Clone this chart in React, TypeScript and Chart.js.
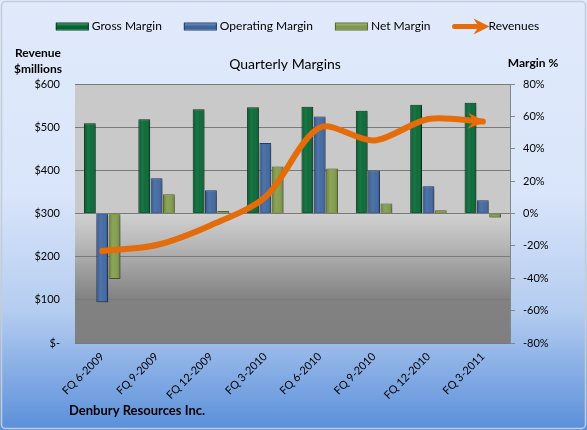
import { useEffect, useRef } from "react";
import { Chart, registerables } from "chart.js";

Chart.register(...registerables);

// Quarter labels along the bottom axis
const quarters = [
  "FQ 6-2009",
  "FQ 9-2009",
  "FQ 12-2009",
  "FQ 3-2010",
  "FQ 6-2010",
  "FQ 9-2010",
  "FQ 12-2010",
  "FQ 3-2011",
];

// Margins in percent (right axis)
const grossMargin = [55.7, 58.2, 64.4, 65.6, 66.0, 63.5, 67.2, 68.4];
const operatingMargin = [-54.9, 21.7, 14.3, 43.5, 60.0, 26.6, 16.8, 8.2];
const netMargin = [-40.5, 11.9, 1.5, 29.1, 27.8, 6.2, 2.0, -2.4];

// Revenues in $ millions (left axis)
const revenues = [213, 227, 273, 338, 499, 469, 519, 513];

// Axis ticks and their labels
const revenueTicks = [0, 100, 200, 300, 400, 500, 600];
const revenueTickLabels = ["$-", "$100", "$200", "$300", "$400", "$500", "$600"];
const marginTicks = [-80, -60, -40, -20, 0, 20, 40, 60, 80];
const marginTickLabels = ["-80%", "-60%", "-40%", "-20%", "0%", "20%", "40%", "60%", "80%"];

const FONT = "Lato, 'Open Sans', sans-serif";

const GREEN = "#00652f";
const GREEN_EDGE = "#0b3d20";
const BLUE = "#3b64a0";
const BLUE_EDGE = "#263f66";
const OLIVE = "#7f9a45";
const OLIVE_EDGE = "#56692c";
const ORANGE = "#e46c0a";

// Chart background, outer frame and plot-area fill
const framePlugin = {
  id: "frame",
  beforeDraw(chart: any) {
    const { ctx, width, height, chartArea: a } = chart;
    ctx.save();
    const bg = ctx.createLinearGradient(0, 0, 0, height);
    bg.addColorStop(0, "#e0eafb");
    bg.addColorStop(0.45, "#d9e5fa");
    bg.addColorStop(0.72, "#b5cdf0");
    bg.addColorStop(1, "#5a8fda");
    ctx.fillStyle = bg;
    ctx.fillRect(0, 0, width, height);

    ctx.strokeStyle = "#c4ccd8";
    ctx.lineWidth = 1.5;
    ctx.beginPath();
    ctx.roundRect(1.5, 1.5, width - 3, height - 3, 4);
    ctx.stroke();

    const zeroY = chart.scales.y1.getPixelForValue(0);
    const h = a.bottom - a.top;
    const zf = (zeroY - a.top) / h;
    const pg = ctx.createLinearGradient(0, a.top, 0, a.bottom);
    pg.addColorStop(0, "#c9c9c9");
    pg.addColorStop(zf, "#c9c9c9");
    pg.addColorStop(Math.min(1, zf + 0.001), "#d0d0d0");
    pg.addColorStop(Math.min(1, zf + 0.1), "#bcbcbc");
    pg.addColorStop(Math.min(1, zf + 0.33), "#828282");
    pg.addColorStop(1, "#7f7f7f");
    ctx.fillStyle = pg;
    ctx.fillRect(a.left, a.top, a.right - a.left, h);
    ctx.restore();
  },
};

// Drop shadow and rounded shading on the bars
const barShadePlugin = {
  id: "barShade",
  beforeDatasetDraw(chart: any, args: any) {
    if (args.meta.type !== "bar") return;
    const ctx = chart.ctx;
    ctx.save();
    ctx.shadowColor = "rgba(0,0,0,0.35)";
    ctx.shadowBlur = 3;
    ctx.shadowOffsetX = 1.5;
    ctx.shadowOffsetY = 1.5;
  },
  afterDatasetDraw(chart: any, args: any) {
    if (args.meta.type !== "bar") return;
    const ctx = chart.ctx;
    ctx.restore();
    ctx.save();
    for (const el of args.meta.data) {
      const { x, y, base, width } = el.getProps(["x", "y", "base", "width"], true);
      const l = x - width / 2;
      const top = Math.min(y, base);
      const h = Math.abs(base - y);
      if (h < 3) continue;
      const g = ctx.createLinearGradient(l, 0, l + width, 0);
      g.addColorStop(0, "rgba(0,0,0,0.22)");
      g.addColorStop(0.4, "rgba(255,255,255,0.10)");
      g.addColorStop(0.6, "rgba(255,255,255,0.05)");
      g.addColorStop(1, "rgba(0,0,0,0.28)");
      ctx.fillStyle = g;
      ctx.fillRect(l + 1, top + 1, width - 2, h - 2);
    }
    ctx.restore();
  },
};

function drawArrowHead(ctx: CanvasRenderingContext2D, tx: number, ty: number, dx: number, dy: number, len: number, half: number, notch: number) {
  const nx = -dy;
  const ny = dx;
  ctx.beginPath();
  ctx.moveTo(tx, ty);
  ctx.lineTo(tx - dx * len + nx * half, ty - dy * len + ny * half);
  ctx.lineTo(tx - dx * notch, ty - dy * notch);
  ctx.lineTo(tx - dx * len - nx * half, ty - dy * len - ny * half);
  ctx.closePath();
  ctx.fill();
}

// Arrow head at the end of the revenue line
const arrowPlugin = {
  id: "revArrow",
  afterDatasetsDraw(chart: any) {
    const meta = chart.getDatasetMeta(0);
    const pts = meta.data;
    if (!pts.length) return;
    const last = pts[pts.length - 1];
    const px = last.cp1x ?? pts[pts.length - 2].x;
    const py = last.cp1y ?? pts[pts.length - 2].y;
    let dx = last.x - px;
    let dy = last.y - py;
    const d = Math.hypot(dx, dy) || 1;
    dx /= d;
    dy /= d;
    const ctx = chart.ctx;
    ctx.save();
    ctx.fillStyle = ORANGE;
    drawArrowHead(ctx, last.x + dx * 3, last.y + dy * 3, dx, dy, 18, 8, 12);
    ctx.restore();
  },
};

// Legend, titles and caption
const textPlugin = {
  id: "texts",
  afterDraw(chart: any) {
    const { ctx } = chart;
    ctx.save();
    ctx.fillStyle = "#000";
    ctx.textBaseline = "middle";

    ctx.font = `14px ${FONT}`;
    ctx.textAlign = "center";
    ctx.fillText("Quarterly Margins", 285, 64);

    ctx.font = `bold 12px ${FONT}`;
    ctx.fillText("Revenue", 38, 53);
    ctx.fillText("$millions", 38, 69);
    ctx.fillText("Margin %", 533, 63);

    ctx.textAlign = "left";
    ctx.font = `bold 13px ${FONT}`;
    ctx.fillText("Denbury Resources Inc.", 69, 411);

    // legend
    const items = [
      { label: "Gross Margin", fill: GREEN, edge: GREEN_EDGE, arrow: false },
      { label: "Operating Margin", fill: BLUE, edge: BLUE_EDGE, arrow: false },
      { label: "Net Margin", fill: OLIVE, edge: OLIVE_EDGE, arrow: false },
      { label: "Revenues", fill: ORANGE, edge: ORANGE, arrow: true },
    ];
    ctx.font = `12px ${FONT}`;
    const box = 33;
    const gapText = 3;
    const gapItem = 22;
    const widths = items.map((it) => box + gapText + ctx.measureText(it.label).width);
    const total = widths.reduce((s, w) => s + w, 0) + gapItem * (items.length - 1);
    let x = 297.5 - total / 2;
    const ly = 26.5;
    items.forEach((it, i) => {
      if (it.arrow) {
        ctx.strokeStyle = ORANGE;
        ctx.lineWidth = 5;
        ctx.lineCap = "round";
        ctx.beginPath();
        ctx.moveTo(x + 2, ly);
        ctx.lineTo(x + 24, ly);
        ctx.stroke();
        ctx.fillStyle = ORANGE;
        drawArrowHead(ctx, x + 37, ly, 1, 0, 16, 8, 11);
      } else {
        ctx.fillStyle = it.fill;
        ctx.fillRect(x, ly - 3, box, 6);
        ctx.strokeStyle = it.edge;
        ctx.lineWidth = 1;
        ctx.strokeRect(x + 0.5, ly - 3.5, box - 1, 7);
        ctx.fillStyle = "rgba(255,255,255,0.18)";
        ctx.fillRect(x + 1, ly - 2.5, box - 2, 1.5);
      }
      ctx.fillStyle = "#000";
      ctx.fillText(it.label, x + box + gapText, ly);
      x += widths[i] + gapItem;
    });
    ctx.restore();
  },
};

export default function App() {
  const canvasRef = useRef<HTMLCanvasElement | null>(null);

  useEffect(() => {
    let chart: Chart | null = null;
    let cancelled = false;

    const build = () => {
      if (cancelled || !canvasRef.current) return;
      chart = new Chart(canvasRef.current, {
        type: "bar",
        data: {
          labels: quarters,
          datasets: [
            {
              type: "line",
              label: "Revenues",
              data: revenues,
              yAxisID: "y",
              borderColor: ORANGE,
              borderWidth: 6,
              borderCapStyle: "round",
              borderJoinStyle: "round",
              tension: 0.3,
              pointRadius: 0,
              fill: false,
              order: 0,
            } as any,
            {
              label: "Gross Margin",
              data: grossMargin,
              yAxisID: "y1",
              backgroundColor: GREEN,
              borderColor: GREEN_EDGE,
              borderWidth: 1,
              order: 1,
            },
            {
              label: "Operating Margin",
              data: operatingMargin,
              yAxisID: "y1",
              backgroundColor: BLUE,
              borderColor: BLUE_EDGE,
              borderWidth: 1,
              order: 1,
            },
            {
              label: "Net Margin",
              data: netMargin,
              yAxisID: "y1",
              backgroundColor: OLIVE,
              borderColor: OLIVE_EDGE,
              borderWidth: 1,
              order: 1,
            },
          ],
        },
        options: {
          responsive: false,
          animation: false,
          events: [],
          datasets: {
            bar: { categoryPercentage: 0.68, barPercentage: 0.96 },
          },
          layout: { padding: { top: 84, left: 0, right: 0, bottom: 0 } },
          plugins: {
            legend: { display: false },
            title: { display: false },
            tooltip: { enabled: false },
          },
          scales: {
            x: {
              offset: true,
              grid: { display: false, drawTicks: false },
              border: { display: false },
              ticks: {
                autoSkip: false,
                minRotation: 45,
                maxRotation: 45,
                padding: 7,
                color: "#000",
                font: { family: FONT, size: 11 },
              },
              afterFit(scale: any) {
                scale.height = 87;
              },
            },
            y: {
              position: "left",
              min: 0,
              max: 600,
              afterBuildTicks(scale: any) {
                scale.ticks = revenueTicks.map((v) => ({ value: v }));
              },
              ticks: {
                padding: 15,
                color: "#000",
                font: { family: FONT, size: 11 },
                callback: (v: any) => revenueTickLabels[revenueTicks.indexOf(Number(v))],
              },
              grid: { color: "#7a7a7a", lineWidth: 1, drawTicks: false },
              border: { display: false },
              afterFit(scale: any) {
                scale.width = 75;
              },
            },
            y1: {
              position: "right",
              min: -80,
              max: 80,
              afterBuildTicks(scale: any) {
                scale.ticks = marginTicks.map((v) => ({ value: v }));
              },
              ticks: {
                padding: 8,
                color: "#000",
                font: { family: FONT, size: 11 },
                callback: (v: any) => marginTickLabels[marginTicks.indexOf(Number(v))],
              },
              grid: { drawOnChartArea: false, drawTicks: true, tickLength: 5, color: "#868686" },
              border: { display: true, color: "#868686" },
              afterFit(scale: any) {
                scale.width = 77;
              },
            },
          },
        },
        plugins: [framePlugin, barShadePlugin, arrowPlugin, textPlugin],
      });
    };

    const fonts = (document as any).fonts;
    if (fonts && fonts.load) {
      Promise.all([fonts.load(`12px Lato`), fonts.load(`bold 12px Lato`)]).then(build, build);
    } else {
      build();
    }

    return () => {
      cancelled = true;
      if (chart) chart.destroy();
    };
  }, []);

  return (
    <div style={{ position: "fixed", left: 0, top: 0, width: 587, height: 430 }}>
      <canvas ref={canvasRef} width={587} height={430} style={{ display: "block" }} />
    </div>
  );
}
